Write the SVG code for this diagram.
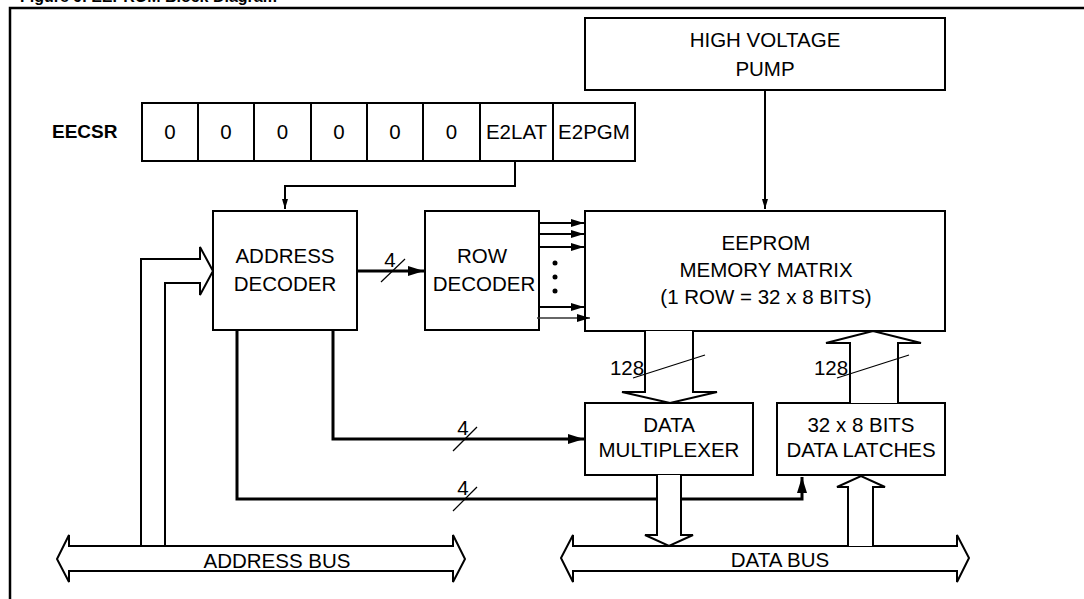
<svg xmlns="http://www.w3.org/2000/svg" width="1084" height="599" viewBox="0 0 1084 599">
<defs>
<style>
.box{fill:#fff;stroke:#000;stroke-width:2}
.t{font-family:"Liberation Sans",Arial,sans-serif;font-size:20.5px;fill:#000;text-anchor:middle}
.b{font-family:"Liberation Sans",Arial,sans-serif;font-weight:bold;fill:#000}
.ln{fill:none;stroke:#000;stroke-width:2}
.thk{fill:none;stroke:#000;stroke-width:3}
.sl{fill:none;stroke:#000;stroke-width:1.2}
.hol{fill:#fff;stroke:#000;stroke-width:2;stroke-linejoin:miter}
</style>
<marker id="ah" markerUnits="userSpaceOnUse" markerWidth="14" markerHeight="10" refX="13" refY="4" orient="auto"><path d="M0,0 L13,4 L0,8 z" fill="#000"/></marker>
<marker id="ahs" markerUnits="userSpaceOnUse" markerWidth="12" markerHeight="8" refX="10" refY="3" orient="auto"><path d="M0,0 L10,3 L0,6 z" fill="#000"/></marker>
<marker id="ahb" markerUnits="userSpaceOnUse" markerWidth="18" markerHeight="12" refX="16" refY="5" orient="auto"><path d="M0,0 L16,5 L0,10 z" fill="#000"/></marker>
</defs>
<rect width="1084" height="599" fill="#fff"/>
<g id="frame">
<text class="b" x="20" y="2" font-size="16">Figure 9. EEPROM Block Diagram</text>
<path d="M10,599 V8 H1084" fill="none" stroke="#000" stroke-width="2.5"/>
</g>
<g id="eecsr">
<text class="b" x="52" y="138" font-size="19">EECSR</text>
<rect class="box" x="142" y="103" width="493" height="58"/>
<path class="ln" d="M198,103V161M254,103V161M311,103V161M367,103V161M423,103V161M480,103V161M553,103V161"/>
<text class="t" x="170" y="139">0</text>
<text class="t" x="226" y="139">0</text>
<text class="t" x="282.5" y="139">0</text>
<text class="t" x="339" y="139">0</text>
<text class="t" x="395" y="139">0</text>
<text class="t" x="451.5" y="139">0</text>
<text class="t" x="516.5" y="139">E2LAT</text>
<text class="t" x="594" y="139">E2PGM</text>
</g>
<g id="pump">
<rect class="box" x="585" y="18" width="360" height="72"/>
<text class="t" x="765" y="47">HIGH VOLTAGE</text>
<text class="t" x="765" y="76">PUMP</text>
</g>
<g id="addrdec">
<rect class="box" x="213" y="211" width="144" height="119"/>
<text class="t" x="285" y="263">ADDRESS</text>
<text class="t" x="285" y="291">DECODER</text>
</g>
<g id="rowdec">
<rect class="box" x="425" y="211" width="114" height="119"/>
<text class="t" x="482" y="263">ROW</text>
<text class="t" x="484" y="291">DECODER</text>
</g>
<g id="memory">
<rect class="box" x="585" y="211" width="360" height="120"/>
<text class="t" x="766" y="250">EEPROM</text>
<text class="t" x="766" y="277">MEMORY MATRIX</text>
<text class="t" x="766" y="304">(1 ROW = 32 x 8 BITS)</text>
</g>
<g id="mux">
<rect class="box" x="585" y="403" width="168" height="72"/>
<text class="t" x="669" y="432">DATA</text>
<text class="t" x="669" y="457">MULTIPLEXER</text>
</g>
<g id="latches">
<rect class="box" x="777" y="403" width="168" height="72"/>
<text class="t" x="861" y="432">32 x 8 BITS</text>
<text class="t" x="861" y="457">DATA LATCHES</text>
</g>
<g id="addrbus">
<path class="hol" d="M69,546 H453 V535 L465,559 L453,582 V571 H69 V582 L57,559 L69,535 Z"/>
<text class="t" x="277" y="568">ADDRESS BUS</text>
</g>
<g id="databus">
<path class="hol" d="M573,546 H957 V535 L969,558 L957,582 V571 H573 V582 L561,558 L573,535 Z"/>
<text class="t" x="780" y="567">DATA BUS</text>
</g>
<g id="connectors">
<path class="ln" d="M515,161 V186 H285 V209" marker-end="url(#ahs)"/>
<path class="ln" d="M765,90 V209" marker-end="url(#ahs)"/>
<path class="thk" d="M357,271 H424" marker-end="url(#ahb)"/>
<path class="sl" d="M381,282 L405,259"/>
<text class="t" x="390" y="267">4</text>
<path class="ln" d="M539,223 H584" marker-end="url(#ah)"/>
<path class="ln" d="M539,234 H584" marker-end="url(#ah)"/>
<path class="ln" d="M539,247 H584" marker-end="url(#ah)"/>
<path class="ln" d="M539,307 H584" marker-end="url(#ah)"/>
<path fill="none" stroke="#333" stroke-width="1.5" d="M537,318 H590" marker-end="url(#ah)"/>
<circle cx="555" cy="263" r="2.5"/>
<circle cx="555" cy="277" r="2.5"/>
<circle cx="555" cy="291" r="2.5"/>
<path class="thk" d="M237,330 V499 H802 V477" marker-end="url(#ahb)"/>
<path class="sl" d="M453,511 L477,487"/>
<text class="t" x="463" y="495">4</text>
<path class="thk" d="M333,330 V439 H584" marker-end="url(#ahb)"/>
<path class="sl" d="M453,451 L477,427"/>
<text class="t" x="463" y="435">4</text>
<path class="hol" d="M645,331 V392 H622 L670,403 L717,392 H693 V331"/>
<path class="sl" d="M633,378 L705,355"/>
<text class="t" x="627" y="375">128</text>
<path class="hol" d="M850,403 V343 H826 L873,331 L921,343 H898 V403"/>
<path class="sl" d="M837,378 L909,355"/>
<text class="t" x="831" y="375">128</text>
<path class="hol" d="M657,475 V535 H645 L669,546 L693,535 H681 V475"/>
<path class="hol" d="M848,546 V487 H837 L861,476 L885,487 H873 V546"/>
<path class="ln" d="M141,546 V259 H200 V247 L213,271 L200,295 V283 H165 V546"/>
</g>
</svg>
